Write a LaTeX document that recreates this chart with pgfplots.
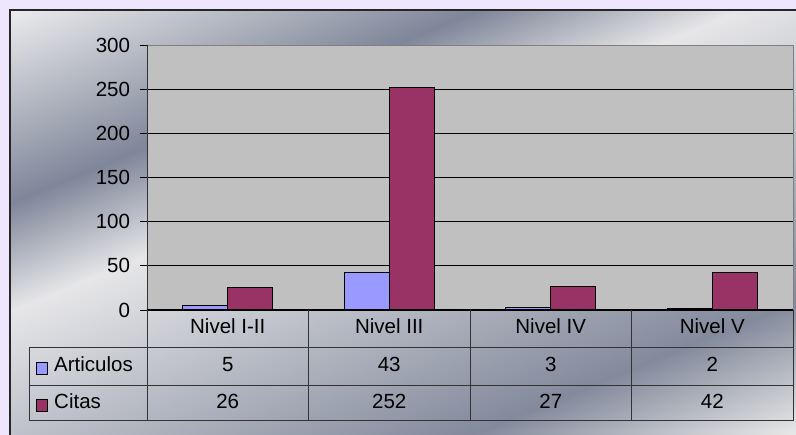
\documentclass[border=0pt]{standalone}
\usepackage{pgfplots}
\pgfplotsset{compat=1.18}
\usepackage{fontspec}
\setmainfont{Liberation Sans}
\definecolor{lavbg}{HTML}{EEE6FF}
\definecolor{plotgray}{HTML}{C0C0C0}
\definecolor{artcol}{HTML}{9999FF}
\definecolor{citcol}{HTML}{993366}
\definecolor{gridc}{HTML}{333333}
\pgfdeclarehorizontalshading{excelbg}{100bp}{%
  color(0bp)=(white!95!black);
  color(28.06bp)=(white!95!black);
  color(39.94bp)=(rgb,255:red,127;green,134;blue,153);
  color(46.19bp)=(rgb,255:red,230;green,230;blue,232);
  color(64.31bp)=(rgb,255:red,131;green,138;blue,156);
  color(71.81bp)=(rgb,255:red,230;green,230;blue,230);
  color(100bp)=(rgb,255:red,230;green,230;blue,230)}
\pgfplotstableread{
x art cit
0 5 26
1 43 252
2 3 27
3 2 42
}\datatable
\begin{document}
\begin{tikzpicture}
\fontsize{20.5}{24}\selectfont
\path[use as bounding box,fill=lavbg] (0pt,0pt) rectangle (796pt,-435pt);
\begin{scope}
\clip (10pt,-10pt) rectangle (800pt,-440pt);
\begin{scope}[transform canvas={shift={(398pt,-217.5pt)},rotate=-67.6}]
\shade[shading=excelbg] (-400pt,-700pt) rectangle (400pt,700pt);
\end{scope}
\end{scope}
\draw[line width=2pt,color=black!85] (10pt,-440pt) -- (10pt,-10pt) -- (800pt,-10pt);
\begin{axis}[
  at={(147pt,-310pt)}, anchor=south west,
  scale only axis, width=646pt, height=265pt,
  xmin=-0.5, xmax=3.5, ymin=0, ymax=300,
  ytick={0,50,...,300}, xtick=\empty,
  ybar=0pt, bar width=45pt,
  axis background/.style={fill=plotgray},
  ymajorgrids, grid style={black, line width=0.8pt},
  axis line style={draw=none},
  tick align=outside, major tick length=7pt, ytick pos=left,
  tick style={black, line width=0.8pt},
  yticklabel style={font=\fontsize{20.5}{24}\selectfont, xshift=-3pt},
  /pgf/number format/assume math mode=true,
  clip=false,
]
\addplot[fill=artcol, draw=black, line width=0.8pt] table[x=x,y=art] {\datatable};
\addplot[fill=citcol, draw=black, line width=0.8pt] table[x=x,y=cit] {\datatable};
\end{axis}
% plot border
\draw[gray, line width=0.8pt] (147pt,-45pt) -- (793pt,-45pt) -- (793pt,-310pt);
\draw[gridc, line width=1pt] (147pt,-45pt) -- (147pt,-421pt);
\draw[black, line width=1pt] (147pt,-310pt) -- (793pt,-310pt);
% table
\draw[gridc, line width=1pt] (29pt,-348pt) -- (793pt,-348pt);
\draw[gridc, line width=1pt] (29pt,-386pt) -- (793pt,-386pt);
\draw[gridc, line width=1pt] (29pt,-421pt) -- (793pt,-421pt);
\draw[gridc, line width=1pt] (29pt,-348pt) -- (29pt,-421pt);
\foreach \xx in {308.5,470,631.5,793} {\draw[gridc, line width=1pt] (\xx pt,-310pt) -- (\xx pt,-421pt);}
\foreach \lab [count=\i from 0] in {Nivel I-II,Nivel III,Nivel IV,Nivel V} {
  \node[inner sep=0pt] at (227.75pt+\i*161.5pt,-329pt) {\strut\lab};
}
\foreach \v [count=\i from 0] in {5,43,3,2} {
  \node[inner sep=0pt] at (227.75pt+\i*161.5pt,-367pt) {\strut\v};
}
\foreach \v [count=\i from 0] in {26,252,27,42} {
  \node[inner sep=0pt] at (227.75pt+\i*161.5pt,-403.5pt) {\strut\v};
}
\draw[black, fill=artcol, line width=0.8pt] (36pt,-362pt) rectangle (47pt,-374pt);
\draw[black, fill=citcol, line width=0.8pt] (36pt,-399pt) rectangle (47pt,-411pt);
\node[inner sep=0pt, anchor=west] at (54pt,-367pt) {\strut Articulos};
\node[inner sep=0pt, anchor=west] at (54pt,-403.5pt) {\strut Citas};
\end{tikzpicture}
\end{document}
